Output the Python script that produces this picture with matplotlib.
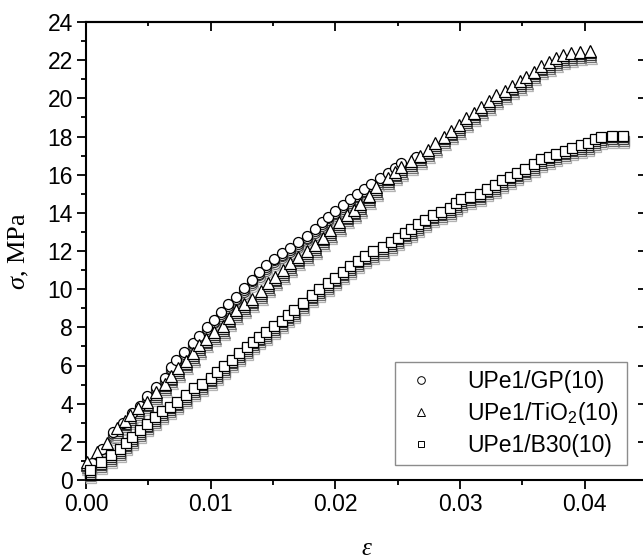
import matplotlib
matplotlib.use("Agg")
import matplotlib.pyplot as plt
from matplotlib.transforms import ScaledTranslation
from matplotlib.ticker import MultipleLocator

plt.rcParams['font.family'] = ['Liberation Sans', 'DejaVu Sans']
plt.rcParams['mathtext.fontset'] = 'custom'
plt.rcParams['mathtext.rm'] = 'Liberation Sans'
plt.rcParams['mathtext.it'] = 'Liberation Serif:italic'

# ---- data ----
gp_eps = [0.0005, 0.0013, 0.0022, 0.0030, 0.0037, 0.0043, 0.0049, 0.0056, 0.0063, 0.0068,
          0.0072, 0.0079, 0.0086, 0.0091, 0.0097, 0.0103, 0.0108, 0.0114, 0.0120, 0.0127,
          0.0133, 0.0139, 0.0144, 0.0151, 0.0157, 0.0164, 0.0170, 0.0177, 0.0184, 0.0189,
          0.0194, 0.0200, 0.0206, 0.0212, 0.0217, 0.0223, 0.0229, 0.0236, 0.0242, 0.0248,
          0.0253, 0.0265]
gp_sig = [0.9, 1.6, 2.5, 3.0, 3.5, 3.9, 4.4, 4.85, 5.35, 5.9,
          6.3, 6.7, 7.2, 7.55, 8.0, 8.4, 8.8, 9.2, 9.6, 10.05,
          10.5, 10.9, 11.25, 11.6, 11.9, 12.15, 12.45, 12.8, 13.15, 13.5,
          13.8, 14.1, 14.4, 14.7, 15.0, 15.25, 15.5, 15.8, 16.1, 16.35,
          16.6, 16.95]

tio_eps = [0.0001, 0.0009, 0.0017, 0.0025, 0.0031, 0.0035, 0.0042, 0.0049, 0.0056, 0.0063,
           0.0068, 0.0074, 0.0080, 0.0086, 0.0091, 0.0096, 0.0103, 0.0110, 0.0115, 0.0120,
           0.0127, 0.0133, 0.0140, 0.0146, 0.0152, 0.0158, 0.0164, 0.0170, 0.0177, 0.0184,
           0.0190, 0.0196, 0.0203, 0.0209, 0.0215, 0.0220, 0.0227, 0.0233, 0.0242, 0.0248,
           0.0253, 0.0261, 0.0268, 0.0274, 0.0280, 0.0287, 0.0293, 0.0299, 0.0305, 0.0311,
           0.0317, 0.0323, 0.0329, 0.0336, 0.0342, 0.0348, 0.0353, 0.0359, 0.0365, 0.0371,
           0.0377, 0.0383, 0.0389, 0.0396, 0.0404]
tio_sig = [0.95, 1.45, 1.95, 2.7, 3.1, 3.4, 3.75, 4.1, 4.6, 5.05,
           5.45, 5.85, 6.25, 6.65, 7.05, 7.4, 7.75, 8.05, 8.5, 8.9,
           9.2, 9.5, 9.9, 10.3, 10.65, 11.0, 11.35, 11.7, 12.0, 12.3,
           12.7, 13.1, 13.5, 13.9, 14.15, 14.45, 14.9, 15.35, 15.85, 16.15,
           16.4, 16.7, 17.0, 17.3, 17.65, 18.0, 18.3, 18.6, 18.95, 19.25,
           19.55, 19.85, 20.15, 20.4, 20.65, 20.9, 21.1, 21.4, 21.7, 21.9,
           22.1, 22.25, 22.35, 22.45, 22.5]

b30_eps = [0.0003, 0.0012, 0.0020, 0.0027, 0.0032, 0.0037, 0.0043, 0.0049, 0.0055, 0.0061,
           0.0067, 0.0073, 0.0080, 0.0087, 0.0093, 0.0100, 0.0105, 0.0111, 0.0117, 0.0123,
           0.0129, 0.0134, 0.0139, 0.0144, 0.0151, 0.0157, 0.0162, 0.0167, 0.0174, 0.0181,
           0.0187, 0.0194, 0.0200, 0.0206, 0.0212, 0.0218, 0.0224, 0.0230, 0.0238, 0.0245,
           0.0250, 0.0256, 0.0261, 0.0266, 0.0272, 0.0278, 0.0285, 0.0292, 0.0297, 0.0301,
           0.0308, 0.0316, 0.0322, 0.0328, 0.0334, 0.0340, 0.0346, 0.0352, 0.0359, 0.0365,
           0.0371, 0.0377, 0.0384, 0.0390, 0.0397, 0.0403, 0.0408, 0.0413, 0.0422, 0.0431]
b30_sig = [0.5, 0.95, 1.3, 1.6, 1.95, 2.25, 2.6, 2.95, 3.3, 3.6,
           3.85, 4.1, 4.45, 4.8, 5.05, 5.35, 5.65, 5.95, 6.3, 6.65,
           6.95, 7.25, 7.5, 7.75, 8.05, 8.35, 8.65, 8.9, 9.3, 9.7,
           10.0, 10.3, 10.6, 10.9, 11.2, 11.5, 11.75, 12.0, 12.2, 12.45,
           12.7, 12.95, 13.15, 13.4, 13.65, 13.9, 14.05, 14.25, 14.5, 14.7,
           14.85, 15.0, 15.25, 15.45, 15.7, 15.9, 16.1, 16.3, 16.55, 16.8,
           16.95, 17.1, 17.25, 17.4, 17.55, 17.65, 17.85, 18.0, 18.05, 18.05]

labels = ["UPe1/GP(10)", "UPe1/TiO$\\mathrm{_2}$(10)", "UPe1/B30(10)"]
x_ticks = [0.00, 0.01, 0.02, 0.03, 0.04]
x_ticklabels = ["0.00", "0.01", "0.02", "0.03", "0.04"]
y_ticks = [0, 2, 4, 6, 8, 10, 12, 14, 16, 18, 20, 22, 24]

W, H = 643, 559
fig = plt.figure(figsize=(W / 100, H / 100), dpi=100)
ax = fig.add_axes([86 / W, (H - 480) / H, (647 - 86) / W, (480 - 22) / H])

series = [
    (gp_eps, gp_sig, 'o', 7.2, labels[0]),
    (tio_eps, tio_sig, '^', 8.6, labels[1]),
    (b30_eps, b30_sig, 's', 7.0, labels[2]),
]

# stacked grey "shadow" copies under each marker (visual effect of the original)
shadow = [(0.01, -0.075, '0.7'), (0.005, -0.055, '0.45'), (0.0, -0.035, '0.25'), (0.0, -0.018, '0.15')]
for xs, ys, m, ms, lab in series:
    for dx, dy, col in shadow:
        tr = ax.transData + ScaledTranslation(dx, dy, fig.dpi_scale_trans)
        ax.plot(xs, ys, linestyle='none', marker=m, ms=ms, mfc='white', mec=col,
                mew=0.9, transform=tr, zorder=2, clip_on=False)
for xs, ys, m, ms, lab in series:
    ax.plot(xs, ys, linestyle='none', marker=m, ms=ms, mfc='white', mec='black',
            mew=0.9, zorder=3, label=lab, clip_on=False)

ax.set_xlim(0, 0.045)
ax.set_ylim(0, 24)
ax.set_xticks(x_ticks)
ax.set_xticklabels(x_ticklabels)
ax.set_yticks(y_ticks)
ax.xaxis.set_minor_locator(MultipleLocator(0.005))
ax.yaxis.set_minor_locator(MultipleLocator(1))
for s in ax.spines.values():
    s.set_linewidth(1.5)
ax.tick_params(which='major', direction='out', length=6.5, width=1.3, labelsize=16.5,
               pad=3)
ax.tick_params(which='minor', direction='out', length=3.5, width=1.3)

secx = ax.secondary_xaxis('top')
secx.set_xticks(x_ticks)
secx.xaxis.set_minor_locator(MultipleLocator(0.005))
secx.tick_params(which='major', direction='in', length=6.5, width=1.3, labeltop=False)
secx.tick_params(which='minor', direction='in', length=3.2, width=1.3)
secx.spines['top'].set_linewidth(1.5)
secy = ax.secondary_yaxis('right')
secy.set_yticks(y_ticks)
secy.tick_params(which='major', direction='in', length=6.5, width=1.3, labelright=False)
secy.spines['right'].set_linewidth(1.5)

ax.set_xlabel("ε", fontfamily='Liberation Serif', fontstyle='italic', fontsize=18, labelpad=16)
ax.set_ylabel("$\\sigma$, MPa", fontfamily='Liberation Serif', fontsize=19, labelpad=12)

leg = ax.legend(handles=[
    plt.Line2D([], [], linestyle='none', marker='o', ms=5.5, mfc='white', mec='black', mew=0.7),
    plt.Line2D([], [], linestyle='none', marker='^', ms=6, mfc='white', mec='black', mew=0.7),
    plt.Line2D([], [], linestyle='none', marker='s', ms=5, mfc='white', mec='black', mew=0.7)],
    labels=labels, loc='upper left', bbox_to_anchor=(395 / W, 1 - 362 / H),
    bbox_transform=fig.transFigure, fontsize=16.5, frameon=True, fancybox=False,
    edgecolor='0.55', framealpha=1, handletextpad=1.2, labelspacing=0.3,
    borderpad=0.35, handlelength=1.6, borderaxespad=0)
leg.get_frame().set_linewidth(1.0)

fig.savefig("out.png", dpi=100)
